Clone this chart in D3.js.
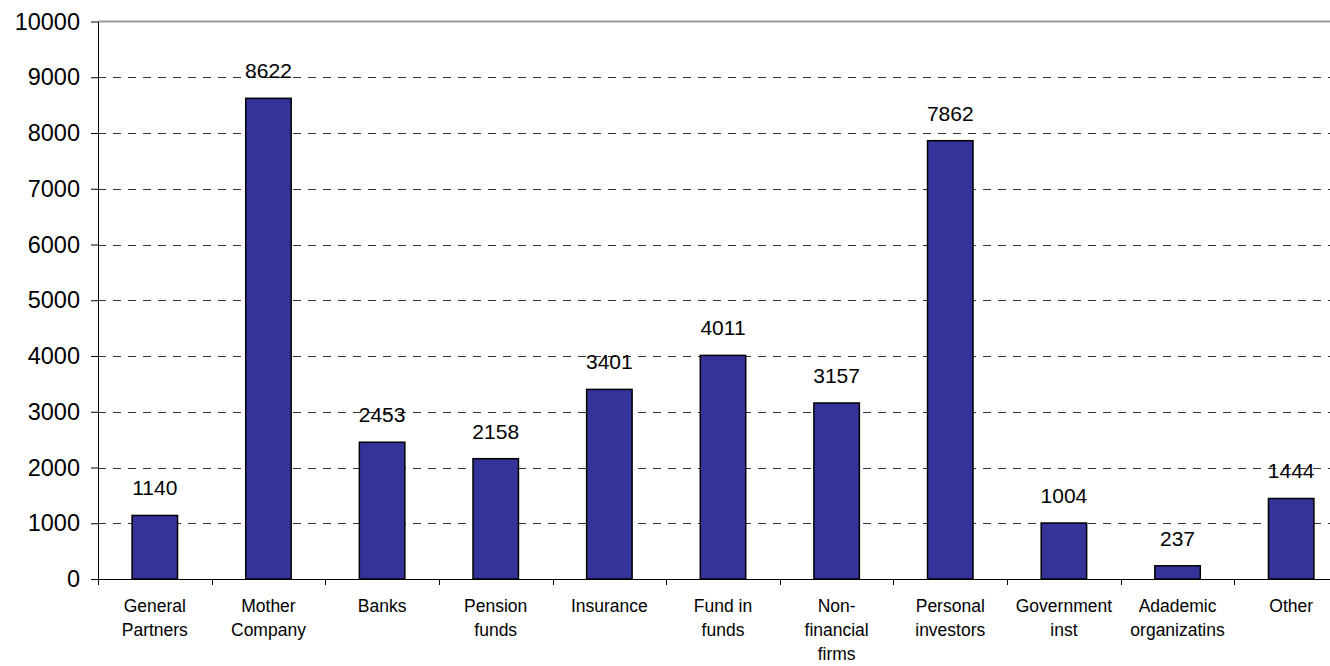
<!DOCTYPE html>
<html>
<head>
<meta charset="utf-8">
<script src="https://cdnjs.cloudflare.com/ajax/libs/d3/7.8.5/d3.min.js"></script>
<style>
  html, body { margin: 0; padding: 0; background: #fff; }
  svg { display: block; font-family: "Liberation Sans", Arial, sans-serif; }
</style>
</head>
<body>
<div id="chart"></div>
<script>
// data
var categories = [
    ["General", "Partners"],
    ["Mother", "Company"],
    ["Banks"],
    ["Pension", "funds"],
    ["Insurance"],
    ["Fund in", "funds"],
    ["Non-", "financial", "firms"],
    ["Personal", "investors"],
    ["Government", "inst"],
    ["Adademic", "organizatins"],
    ["Other"]
];
var values = [1140, 8622, 2453, 2158, 3401, 4011, 3157, 7862, 1004, 237, 1444];
var yTicks = [0, 1000, 2000, 3000, 4000, 5000, 6000, 7000, 8000, 9000, 10000];

var width = 1330, height = 666;
var plotLeft = 98, plotRight = 1348, plotTop = 21.5, plotBottom = 579;

var svg = d3.select("#chart").append("svg")
    .attr("width", width)
    .attr("height", height);

var x = d3.scaleBand()
    .domain(d3.range(values.length))
    .range([plotLeft, plotRight])
    .paddingInner(0.6)
    .paddingOuter(0.3);

var y = d3.scaleLinear()
    .domain([0, 10000])
    .range([plotBottom, plotTop]);

// grid lines
var grid = svg.append("g").attr("class", "grid");
grid.selectAll("line.dash")
    .data(yTicks.filter(function(d){ return d > 0 && d < 10000; }))
    .enter().append("line")
    .attr("class", "dash")
    .attr("x1", plotLeft).attr("x2", width)
    .attr("y1", function(d){ return Math.round(y(d)) + 0.5; })
    .attr("y2", function(d){ return Math.round(y(d)) + 0.5; })
    .attr("stroke", "#333")
    .attr("stroke-width", 1)
    .attr("stroke-dasharray", "8,7");

grid.append("line")
    .attr("x1", plotLeft).attr("x2", width)
    .attr("y1", y(10000)).attr("y2", y(10000))
    .attr("stroke", "#999")
    .attr("stroke-width", 2);

// bars
svg.append("g").selectAll("rect")
    .data(values)
    .enter().append("rect")
    .attr("x", function(d, i){ return x(i); })
    .attr("y", function(d){ return y(d); })
    .attr("width", x.bandwidth())
    .attr("height", function(d){ return plotBottom - y(d); })
    .attr("fill", "#333399")
    .attr("stroke", "#000")
    .attr("stroke-width", 1.5);

// value labels
svg.append("g").selectAll("text")
    .data(values)
    .enter().append("text")
    .attr("x", function(d, i){ return x(i) + x.bandwidth() / 2; })
    .attr("y", function(d){ return y(d) - 20; })
    .attr("text-anchor", "middle")
    .attr("font-size", "21px")
    .attr("fill", "#000")
    .text(function(d){ return d; });

// y axis
var yAxis = d3.axisLeft(y)
    .tickValues(yTicks)
    .tickSize(7)
    .tickSizeOuter(0)
    .tickPadding(11)
    .tickFormat(d3.format("d"));

var gy = svg.append("g")
    .attr("transform", "translate(" + plotLeft + ",0)")
    .call(yAxis);
gy.select(".domain").attr("stroke", "#000");
gy.selectAll("text").attr("font-size", "23.5px").attr("fill", "#000")
    .attr("font-family", "Liberation Sans, Arial, sans-serif");

// x axis: category boundaries
var step = x.step();
var x0 = plotLeft;
var gx = svg.append("g").attr("transform", "translate(0," + plotBottom + ")");
gx.append("line")
    .attr("x1", plotLeft).attr("x2", width)
    .attr("y1", 0.5).attr("y2", 0.5)
    .attr("stroke", "#000");
gx.selectAll("line.tick")
    .data(d3.range(values.length + 1))
    .enter().append("line")
    .attr("class", "tick")
    .attr("x1", function(i){ return Math.round(x0 + i * step) + 0.5; })
    .attr("x2", function(i){ return Math.round(x0 + i * step) + 0.5; })
    .attr("y1", 0).attr("y2", 6)
    .attr("stroke", "#000");

var labels = gx.selectAll("text.cat")
    .data(categories)
    .enter().append("text")
    .attr("class", "cat")
    .attr("x", function(d, i){ return x(i) + x.bandwidth() / 2; })
    .attr("y", 33)
    .attr("text-anchor", "middle")
    .attr("font-size", "17.5px")
    .attr("fill", "#000");

labels.selectAll("tspan")
    .data(function(d){ return d; })
    .enter().append("tspan")
    .attr("x", function(){ return this.parentNode.getAttribute("x"); })
    .attr("dy", function(d, j){ return j === 0 ? 0 : 24; })
    .text(function(d){ return d; });
</script>
</body>
</html>
